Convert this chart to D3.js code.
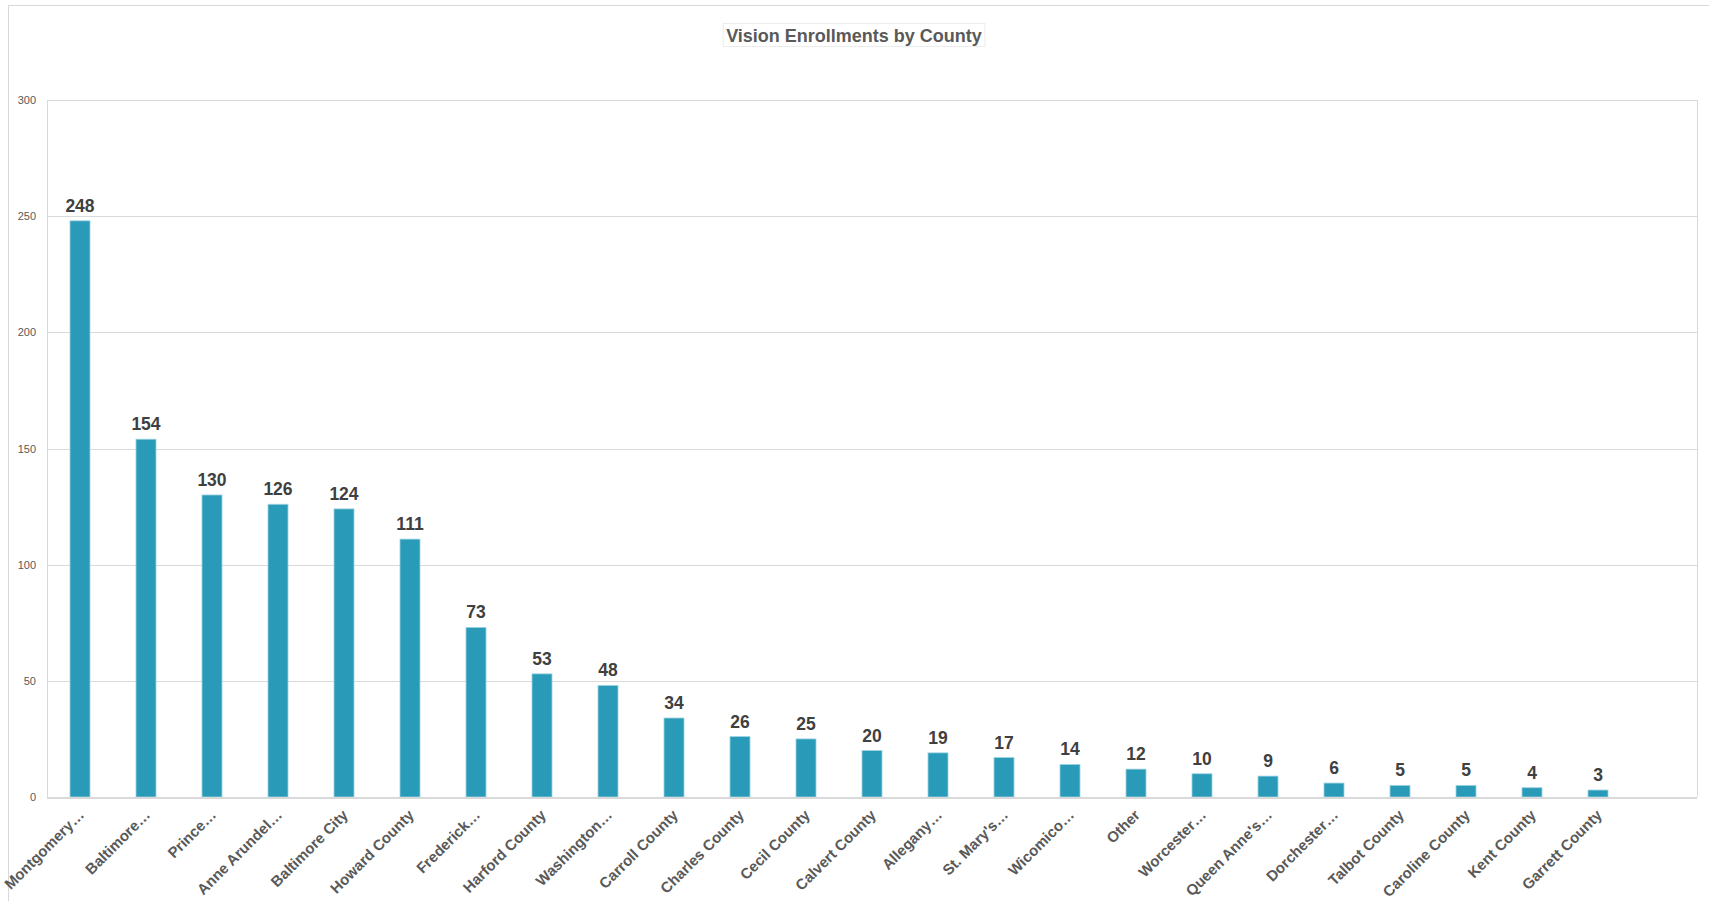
<!DOCTYPE html>
<html>
<head>
<meta charset="utf-8">
<script src="https://cdn.jsdelivr.net/npm/d3@7"></script>
<style>
  html, body { margin: 0; padding: 0; background: #fff; }
  svg { display: block; }
</style>
</head>
<body>
<svg id="chart" width="1709" height="901"></svg>
<script>
const categories = ["Montgomery…", "Baltimore…", "Prince…", "Anne Arundel…", "Baltimore City", "Howard County",
  "Frederick…", "Harford County", "Washington…", "Carroll County", "Charles County", "Cecil County",
  "Calvert County", "Allegany…", "St. Mary's…", "Wicomico…", "Other", "Worcester…", "Queen Anne's…",
  "Dorchester…", "Talbot County", "Caroline County", "Kent County", "Garrett County"];
const values = [248, 154, 130, 126, 124, 111, 73, 53, 48, 34, 26, 25, 20, 19, 17, 14, 12, 10, 9, 6, 5, 5, 4, 3];
const yTicks = [0, 50, 100, 150, 200, 250, 300];
const title = "Vision Enrollments by County";

const svg = d3.select("#chart");
const plot = { left: 47, right: 1697, top: 100, bottom: 797 };
const band = (plot.right - plot.left) / 25;

// outer chart border
svg.append("rect").attr("x", 8.5).attr("y", 5.5).attr("width", 1760).attr("height", 960)
  .attr("fill", "none").attr("stroke", "#d9d9d9").attr("stroke-width", 1);

const x = d3.scaleBand().domain(categories)
  .range([plot.left, plot.left + band * categories.length]).paddingInner(0).paddingOuter(0);
const y = d3.scaleLinear().domain([0, 300]).range([plot.bottom, plot.top]);

// gridlines
const grid = svg.append("g");
grid.selectAll("line").data(yTicks.filter(d => d > 0)).join("line")
  .attr("x1", plot.left).attr("x2", plot.right)
  .attr("y1", d => Math.round(y(d)) + 0.5).attr("y2", d => Math.round(y(d)) + 0.5)
  .attr("stroke", "#d9d9d9").attr("stroke-width", 1);
// plot side borders
svg.append("line").attr("x1", plot.left + 0.5).attr("x2", plot.left + 0.5).attr("y1", plot.top).attr("y2", plot.bottom)
  .attr("stroke", "#d9d9d9");
svg.append("line").attr("x1", plot.right + 0.5).attr("x2", plot.right + 0.5).attr("y1", plot.top).attr("y2", plot.bottom)
  .attr("stroke", "#d9d9d9");

// y axis labels
const yAxis = d3.axisLeft(y).tickValues(yTicks).tickSize(0).tickPadding(11);
const yg = svg.append("g").attr("transform", `translate(${plot.left},0)`).call(yAxis);
yg.select(".domain").remove();
yg.selectAll("text").attr("font-family", "Liberation Sans, Arial, sans-serif")
  .attr("font-size", 11).attr("fill", "#595959");

// bars
const bw = 20;
svg.append("g").selectAll("rect").data(values).join("rect")
  .attr("x", (d, i) => x(categories[i]) + x.bandwidth() / 2 - bw / 2)
  .attr("y", d => y(d))
  .attr("width", bw)
  .attr("height", d => y(0) - y(d))
  .attr("fill", "#299bb8")
  .attr("stroke", "#9fd3e0").attr("stroke-width", 0.8);

// x axis baseline
svg.append("line").attr("x1", plot.left).attr("x2", plot.right)
  .attr("y1", plot.bottom + 1).attr("y2", plot.bottom + 1)
  .attr("stroke", "#d9d9d9").attr("stroke-width", 2);

// value labels
svg.append("g").selectAll("text").data(values).join("text")
  .attr("x", (d, i) => x(categories[i]) + x.bandwidth() / 2)
  .attr("y", d => y(d) - 9)
  .attr("text-anchor", "middle")
  .attr("font-family", "Liberation Sans, Arial, sans-serif")
  .attr("font-weight", "bold").attr("font-size", 17.5).attr("fill", "#404040")
  .text(d => d);

// x labels
const xAxis = d3.axisBottom(x).tickSize(0).tickPadding(0);
const xg = svg.append("g").attr("transform", `translate(0,${plot.bottom})`).call(xAxis);
xg.select(".domain").remove();
xg.selectAll("text")
  .attr("font-family", "Liberation Sans, Arial, sans-serif")
  .attr("font-weight", "bold").attr("font-size", 15).attr("fill", "#595959")
  .attr("text-anchor", "end")
  .attr("dy", null)
  .attr("transform", "translate(5,19) rotate(-45)");

// title
const tg = svg.append("g");
const tt = tg.append("text").attr("x", 854).attr("y", 41.5)
  .attr("text-anchor", "middle")
  .attr("font-family", "Liberation Sans, Arial, sans-serif")
  .attr("font-weight", "bold").attr("font-size", 18).attr("fill", "#595959")
  .text(title);
const bb = tt.node().getBBox();
tg.insert("rect", "text").attr("x", bb.x - 3).attr("y", 23.5).attr("width", bb.width + 6).attr("height", 23)
  .attr("fill", "#fff").attr("stroke", "#ececec").attr("stroke-width", 1);
</script>
</body>
</html>
